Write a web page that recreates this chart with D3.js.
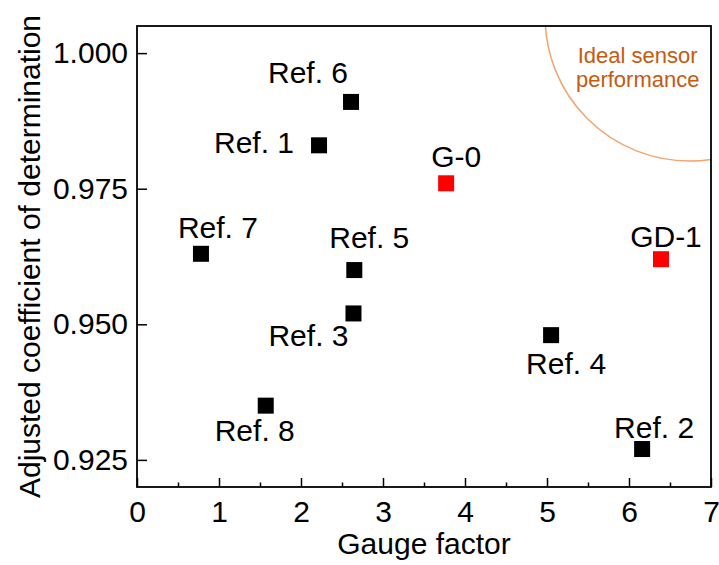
<!DOCTYPE html>
<html>
<head>
<meta charset="utf-8">
<script src="https://cdn.jsdelivr.net/npm/d3@7"></script>
<style>
  body { margin: 0; background: #fff; }
  svg text { font-family: Arial, "Liberation Sans", sans-serif; }
</style>
</head>
<body>
<div id="chart"></div>
<script>
// data
const labels = ["Ref. 1", "Ref. 2", "Ref. 3", "Ref. 4", "Ref. 5", "Ref. 6", "Ref. 7", "Ref. 8", "G-0", "GD-1"]
const gaugeFactor = [2.22, 6.16, 2.64, 5.05, 2.65, 2.61, 0.78, 1.57, 3.77, 6.39]
const adjR2 = [0.983, 0.927, 0.952, 0.948, 0.960, 0.991, 0.963, 0.935, 0.976, 0.962]
const isThisWork = [false, false, false, false, false, false, false, false, true, true]

// label placement (pixel offset from the marker, text centred)
const labelDx = [-65, 12, -45, 15, 15, -43, 17, -11, 10, 5]
const labelDy = [8, -11, 33, 39, -22, -19, -16, 35, -16, -12]

const xTicks = [0, 1, 2, 3, 4, 5, 6, 7]
const xMinorTicks = [0.5, 1.5, 2.5, 3.5, 4.5, 5.5, 6.5]
const yTicks = [0.925, 0.950, 0.975, 1.000]

// "ideal" region, an ellipse in data units
const idealCenter = [6.74, 1.0067]
const idealRadius = [1.763, 0.0266]
const idealText = ["Ideal sensor", "performance"]

const margin = {top: 26, right: 8, bottom: 78, left: 137}
const width = 719 - margin.left - margin.right
const height = 565 - margin.top - margin.bottom

const svg = d3.select("#chart")
    .append("svg")
    .attr("width", 719)
    .attr("height", 565)

const g = svg.append("g")
    .attr("transform", `translate(${margin.left},${margin.top})`)

const x = d3.scaleLinear().domain([0, 7]).range([0, width])
const y = d3.scaleLinear().domain([0.92, 1.005]).range([height, 0])

svg.append("defs").append("clipPath")
    .attr("id", "plotClip")
    .append("rect")
    .attr("width", width)
    .attr("height", height)

// ideal region arc
const cx = x(idealCenter[0]), cy = y(idealCenter[1])
g.append("ellipse")
    .attr("clip-path", "url(#plotClip)")
    .attr("cx", cx)
    .attr("cy", cy)
    .attr("rx", x(idealRadius[0]) - x(0))
    .attr("ry", y(0.95 - idealRadius[1]) - y(0.95))
    .attr("fill", "none")
    .attr("stroke", "#F4A46C")
    .attr("stroke-width", 1.5)

g.append("text")
    .attr("fill", "#C55A11")
    .attr("font-size", "22px")
    .attr("text-anchor", "middle")
    .selectAll("tspan")
    .data(idealText)
    .join("tspan")
    .attr("x", cx - 52)
    .attr("y", (d, i) => 37 + i * 24)
    .text(d => d)

// axes
const xAxis = g.append("g")
    .attr("transform", `translate(0,${height})`)
    .call(d3.axisBottom(x).tickValues(xTicks).tickFormat(d3.format("d"))
        .tickSizeInner(-9).tickSizeOuter(0).tickPadding(14))
xAxis.select(".domain").remove()

const xMinor = g.append("g")
    .attr("transform", `translate(0,${height})`)
    .call(d3.axisBottom(x).tickValues(xMinorTicks).tickFormat("")
        .tickSizeInner(-4.5).tickSizeOuter(0))
xMinor.select(".domain").remove()

const yAxis = g.append("g")
    .call(d3.axisLeft(y).tickValues(yTicks).tickFormat(d3.format(".3f"))
        .tickSizeInner(-10).tickSizeOuter(0).tickPadding(9))
yAxis.select(".domain").remove()

g.selectAll(".tick line").attr("stroke", "#000").attr("stroke-width", 1.5)
g.selectAll(".tick text")
    .attr("font-size", "30px")
    .attr("font-family", "Arial, 'Liberation Sans', sans-serif")
    .attr("fill", "#000")

// frame
g.append("rect")
    .attr("width", width)
    .attr("height", height)
    .attr("fill", "none")
    .attr("stroke", "#000")
    .attr("stroke-width", 1.8)

// axis titles
svg.append("text")
    .attr("x", margin.left + width / 2)
    .attr("y", 554)
    .attr("text-anchor", "middle")
    .attr("font-size", "30px")
    .text("Gauge factor")

svg.append("text")
    .attr("transform", `translate(40,${margin.top + height / 2}) rotate(-90)`)
    .attr("text-anchor", "middle")
    .attr("font-size", "30px")
    .text("Adjusted coefficient of determination")

// markers
const side = 16
const points = labels.map((d, i) => ({
    label: d, gf: gaugeFactor[i], r2: adjR2[i], ours: isThisWork[i],
    dx: labelDx[i], dy: labelDy[i]
}))

g.selectAll(".pt")
    .data(points)
    .join("rect")
    .attr("class", "pt")
    .attr("x", d => x(d.gf) - side / 2)
    .attr("y", d => y(d.r2) - side / 2)
    .attr("width", side)
    .attr("height", side)
    .attr("fill", d => d.ours ? "#FF0000" : "#000")

g.selectAll(".pt-label")
    .data(points)
    .join("text")
    .attr("class", "pt-label")
    .attr("x", d => x(d.gf) + d.dx)
    .attr("y", d => y(d.r2) + d.dy)
    .attr("text-anchor", "middle")
    .attr("font-size", "30px")
    .text(d => d.label)
</script>
</body>
</html>
